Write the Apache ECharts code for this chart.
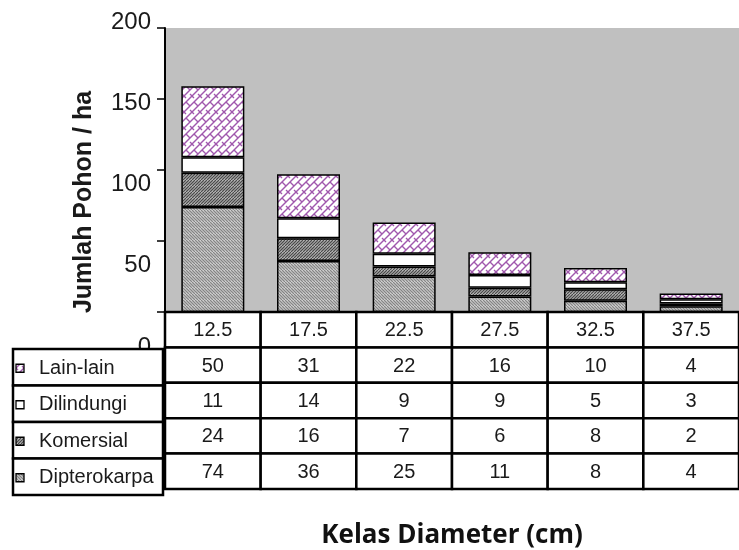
<!DOCTYPE html>
<html><head><meta charset="utf-8">
<script src="https://cdn.jsdelivr.net/npm/echarts@6/dist/echarts.min.js"></script>
<style>html,body{margin:0;padding:0;background:#fff}#c{width:739px;height:550px}</style>
</head><body><div id="c"></div>
<script>
// ---- data ----
const categories = ['12.5','17.5','22.5','27.5','32.5','37.5'];
const dipterokarpa = [74,36,25,11,8,4];
const komersial = [24,16,7,6,8,2];
const dilindungi = [11,14,9,9,5,3];
const lainLain = [50,31,22,16,10,4];
const yTicks = [0,50,100,150,200];
const yAxisName = 'Jumlah Pohon / ha';
const xAxisName = 'Kelas Diameter (cm)';
// table rows, top to bottom
const rowNames = ['Lain-lain','Dilindungi','Komersial','Dipterokarpa'];
const rowValues = [lainLain, dilindungi, komersial, dipterokarpa];

// ---- patterns (style only) ----
function makePattern(size, draw){
  const c=document.createElement('canvas'); c.width=c.height=size;
  const g=c.getContext('2d'); draw(g,size); return c;
}
const patDipt = makePattern(6,(g,s)=>{
  g.fillStyle='#e2e2e2'; g.fillRect(0,0,s,s);
  g.strokeStyle='#858585'; g.lineWidth=1.3;
  for(let k=-s;k<=s;k+=3){ g.beginPath(); g.moveTo(k,0); g.lineTo(k+s,s); g.stroke(); }
});
const patKom = makePattern(6,(g,s)=>{
  g.fillStyle='#d0d0d0'; g.fillRect(0,0,s,s);
  g.strokeStyle='#4a4a4a'; g.lineWidth=1.3;
  for(let k=-s;k<=s;k+=3){ g.beginPath(); g.moveTo(k,s); g.lineTo(k+s,0); g.stroke(); }
});
const patLain = makePattern(16,(g,s)=>{
  g.fillStyle='#ffffff'; g.fillRect(0,0,s,s);
  g.strokeStyle='#a058ad'; g.lineWidth=1.4;
  for(let c=-16;c<=32;c+=8){ g.beginPath(); g.moveTo(c-16,16); g.lineTo(c,0); g.stroke(); }
  g.beginPath();
  g.moveTo(2,6); g.lineTo(6,10);
  g.moveTo(10,6); g.lineTo(14,10);
  g.moveTo(6,-2); g.lineTo(10,2);
  g.moveTo(6,14); g.lineTo(10,18);
  g.moveTo(-2,14); g.lineTo(2,18);
  g.moveTo(14,14); g.lineTo(18,18);
  g.moveTo(-2,-2); g.lineTo(2,2);
  g.moveTo(14,-2); g.lineTo(18,2);
  g.stroke();
});
const fills = {
  'Dipterokarpa': {image: patDipt, repeat:'repeat'},
  'Komersial': {image: patKom, repeat:'repeat'},
  'Dilindungi': '#ffffff',
  'Lain-lain': {image: patLain, repeat:'repeat'}
};

// ---- table cells built from data ----
const tableCells = [];
categories.forEach((c,ci)=>tableCells.push({value:[ci,0], text:c}));
rowValues.forEach((arr,ri)=>arr.forEach((v,ci)=>tableCells.push({value:[ci,ri+1], text:String(v)})));
const legendCells = rowNames.map((n,ri)=>({value:[0,ri], text:n}));

const FONT = '"Liberation Sans", Arial, sans-serif';

function tableItem(params, api){
  const p = api.coord([api.value(0), api.value(1)]);
  const sz = api.size([1,1]);
  return {type:'group', children:[
    {type:'rect', shape:{x:p[0]-sz[0]/2, y:p[1]-sz[1]/2, width:sz[0], height:sz[1]},
     style:{fill:'#fff', stroke:'#000', lineWidth:2.5}},
    {type:'text', style:{x:p[0], y:p[1]+1, text: tableCells[params.dataIndex].text,
     align:'center', verticalAlign:'middle', fill:'#1a1a1a', font:'20px '+FONT}}
  ]};
}
function legendItem(params, api){
  const p = api.coord([api.value(0), api.value(1)]);
  const sz = api.size([1,1]);
  const x0 = p[0]-sz[0]/2, y0 = p[1]-sz[1]/2;
  const name = legendCells[params.dataIndex].text;
  return {type:'group', children:[
    {type:'rect', shape:{x:x0, y:y0, width:sz[0], height:sz[1]},
     style:{fill:'#fff', stroke:'#000', lineWidth:2.5}},
    {type:'rect', shape:{x:x0+3, y:p[1]-3, width:8, height:8},
     style:{fill: fills[name], stroke:'#000', lineWidth:1.3}},
    {type:'text', style:{x:x0+26, y:p[1]+1, text:name, align:'left', verticalAlign:'middle',
     fill:'#1a1a1a', font:'20px '+FONT}}
  ]};
}

const barOrder = [['Dipterokarpa',dipterokarpa],['Komersial',komersial],['Dilindungi',dilindungi],['Lain-lain',lainLain]];

const chart = echarts.init(document.getElementById('c'), null, {renderer:'canvas'});
chart.setOption({
  animation:false,
  backgroundColor:'#fff',
  grid:[
    {left:165, right:-11, top:28, height:284, show:true, backgroundColor:'#c0c0c0', borderWidth:0},
    {left:165, right:-11, top:22, height:325},
    {left:165, right:-11, top:312, height:183},
    {left:13, width:150, top:349, height:146}
  ],
  xAxis:[
    {gridIndex:0, type:'category', data:categories, axisLine:{show:false}, axisTick:{show:false}, axisLabel:{show:false}},
    {gridIndex:1, type:'value', show:false},
    {gridIndex:2, type:'category', data:categories, axisLine:{show:false}, axisTick:{show:false}, axisLabel:{show:false},
     name:xAxisName, nameLocation:'middle', nameGap:34,
     nameTextStyle:{fontFamily:'"Open Sans", sans-serif', fontWeight:'bold', fontSize:26, color:'#111'}},
    {gridIndex:3, type:'category', data:['x'], show:false}
  ],
  yAxis:[
    {gridIndex:0, type:'value', min:yTicks[0], max:yTicks[yTicks.length-1], interval:50,
     axisLine:{show:true, lineStyle:{color:'#000', width:2}}, axisTick:{show:true, length:8, lineStyle:{color:'#000', width:1.5}},
     axisLabel:{show:false}, splitLine:{show:false}},
    {gridIndex:1, type:'value', min:yTicks[0], max:yTicks[yTicks.length-1], interval:50,
     axisLine:{show:false}, axisTick:{show:false}, splitLine:{show:false},
     axisLabel:{fontSize:24, color:'#1a1a1a', margin:14, fontFamily:FONT}},
    {gridIndex:2, type:'category', inverse:true, data:['hdr'].concat(rowNames), show:false},
    {gridIndex:3, type:'category', inverse:true, data:rowNames, show:false}
  ],
  series: barOrder.map(([name,vals])=>({
    name, type:'bar', stack:'total', xAxisIndex:0, yAxisIndex:0, data:vals, barWidth:63,
    itemStyle:{color:fills[name], borderColor:'#000', borderWidth:1.5}
  })).concat([
    {type:'custom', xAxisIndex:2, yAxisIndex:2, renderItem:tableItem, data:tableCells.map(d=>d.value), encode:{x:0,y:1}, clip:false},
    {type:'custom', xAxisIndex:3, yAxisIndex:3, renderItem:legendItem, data:legendCells.map(d=>d.value), encode:{x:0,y:1}, clip:false}
  ]),
  graphic:[
    {type:'text', x:84, y:202, rotation:Math.PI/2,
     style:{text:yAxisName, align:'center', verticalAlign:'middle', fill:'#1a1a1a', font:'bold 25px '+FONT}}
  ]
});
</script></body></html>
